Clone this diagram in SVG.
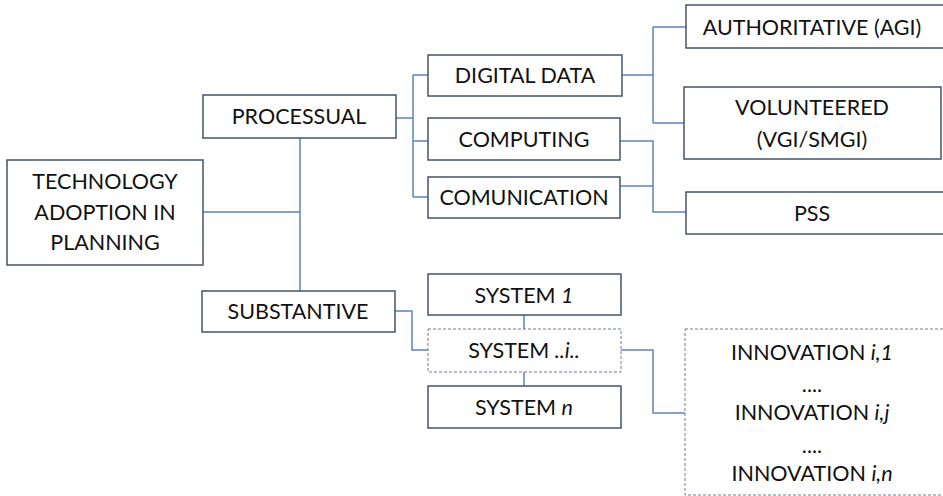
<svg xmlns="http://www.w3.org/2000/svg" width="943" height="496" viewBox="0 0 943 496">
<style>
.box{fill:#fff;stroke:#44546a;stroke-width:1.5}
.dash{fill:#fff;stroke:#6b7a8f;stroke-width:1;stroke-dasharray:3 2}
.t{font-family:Lato,"Open Sans","Liberation Sans",sans-serif;font-size:21.5px;fill:#111;text-anchor:middle;dominant-baseline:central}
.c{fill:none;stroke:#5b84c4;stroke-width:1.5}
</style>
<rect width="943" height="496" fill="#fff"/>
<g id="connectors">
<path class="c" d="M203,212 H300 M300,138 V291"/>
<path class="c" d="M396,118 H413 M413,75 V197 M413,75 H428 M413,141 H428 M413,197 H428"/>
<path class="c" d="M622,75 H653 M653,27 V123 M653,27 H686 M653,123 H684"/>
<path class="c" d="M620,141 H653 V212 H686 M620,186 H653"/>
<path class="c" d="M395,311 H412 V350 H428"/>
<path class="c" d="M524,315 V329 M524,372 V386"/>
<path class="c" d="M621,350 H653 V413 H685"/>
</g>
<g id="technology"><rect class="box" x="7" y="160" width="196" height="105"/>
<text class="t" x="105" y="181">TECHNOLOGY</text><text class="t" x="105" y="212">ADOPTION IN</text><text class="t" x="105" y="242">PLANNING</text></g>
<g id="processual"><rect class="box" x="203" y="95" width="193" height="43"/><text class="t" x="299" y="116">PROCESSUAL</text></g>
<g id="substantive"><rect class="box" x="202" y="291" width="193" height="41"/><text class="t" x="298" y="311">SUBSTANTIVE</text></g>
<g id="digital"><rect class="box" x="428" y="55" width="194" height="41"/><text class="t" x="525" y="75">DIGITAL DATA</text></g>
<g id="computing"><rect class="box" x="428" y="118" width="192" height="42"/><text class="t" x="524" y="139">COMPUTING</text></g>
<g id="comunication"><rect class="box" x="428" y="177" width="192" height="41"/><text class="t" x="524" y="197">COMUNICATION</text></g>
<g id="authoritative"><rect class="box" x="686" y="5" width="270" height="43"/><text class="t" x="812" y="27">AUTHORITATIVE (AGI)</text></g>
<g id="volunteered"><rect class="box" x="684" y="87" width="257" height="72"/><text class="t" x="812" y="107">VOLUNTEERED</text><text class="t" x="812" y="139">(VGI/SMGI)</text></g>
<g id="pss"><rect class="box" x="686" y="192" width="270" height="42"/><text class="t" x="812" y="213">PSS</text></g>
<g id="system1"><rect class="box" x="428" y="274" width="193" height="41"/><text class="t" x="524" y="295">SYSTEM <tspan font-style="italic">1</tspan></text></g>
<g id="systemi"><rect class="dash" x="428" y="329" width="193" height="43"/><text class="t" x="524" y="350">SYSTEM <tspan font-style="italic">..i..</tspan></text></g>
<g id="systemn"><rect class="box" x="428" y="386" width="193" height="42"/><text class="t" x="524" y="407">SYSTEM <tspan font-style="italic">n</tspan></text></g>
<g id="innovation"><rect class="dash" x="685" y="329" width="270" height="166"/>
<text class="t" x="812" y="352">INNOVATION <tspan font-style="italic">i,1</tspan></text>
<text class="t" x="812" y="384">....</text>
<text class="t" x="812" y="412">INNOVATION <tspan font-style="italic">i,j</tspan></text>
<text class="t" x="812" y="445">....</text>
<text class="t" x="812" y="473">INNOVATION <tspan font-style="italic">i,n</tspan></text></g>
</svg>
